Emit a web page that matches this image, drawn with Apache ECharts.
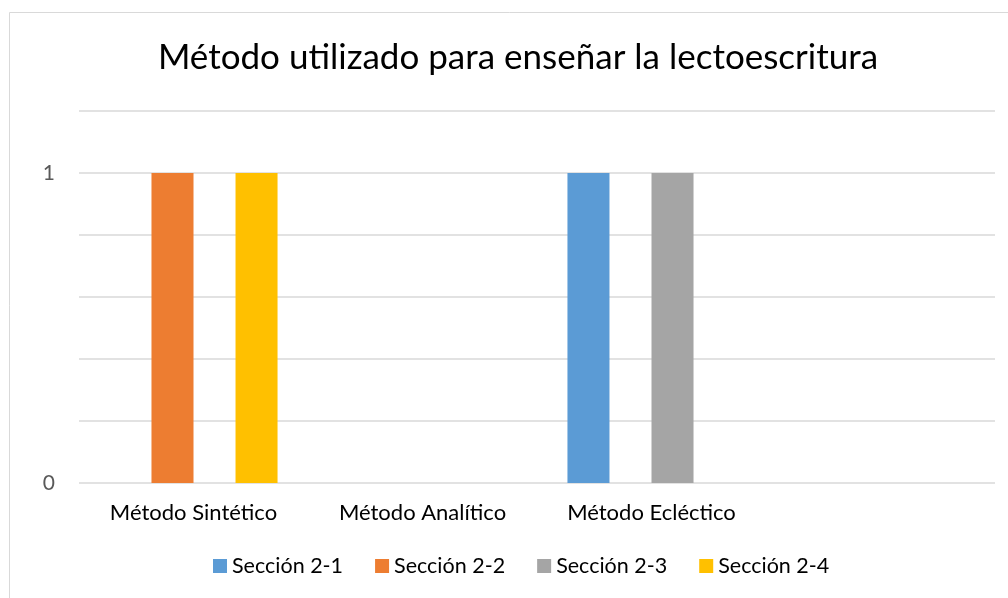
<!DOCTYPE html>
<html>
<head>
<meta charset="utf-8">
<script src="https://cdn.jsdelivr.net/npm/echarts@6/dist/echarts.min.js"></script>
<style>html,body{margin:0;padding:0;background:#fff;}#c{width:1008px;height:598px;}</style>
</head>
<body>
<div id="c"></div>
<script>
const categories = ['Método Sintético', 'Método Analítico', 'Método Ecléctico', ''];
const seriesNames = ['Sección 2-1', 'Sección 2-2', 'Sección 2-3', 'Sección 2-4'];
const seccion21 = [0, 0, 1, 0];
const seccion22 = [1, 0, 0, 0];
const seccion23 = [0, 0, 1, 0];
const seccion24 = [1, 0, 0, 0];
const colors = ['#5B9BD5', '#ED7D31', '#A5A5A5', '#FFC000'];
const values = [seccion21, seccion22, seccion23, seccion24];

const FONT = 'Lato';
const chart = echarts.init(document.getElementById('c'), null, {renderer: 'canvas'});
chart.setOption({
  animation: false,
  backgroundColor: '#fff',
  title: {
    text: 'Método utilizado para enseñar la lectoescritura',
    left: 513, top: 35, textAlign: 'center',
    textStyle: {fontFamily: FONT, fontSize: 35, fontWeight: 'normal', color: '#000'}
  },
  graphic: [{
    type: 'rect', silent: true,
    shape: {x: 9.5, y: 12.5, width: 1010, height: 600},
    style: {fill: 'none', stroke: '#D9D9D9', lineWidth: 1}
  }],
  legend: {
    top: 550, left: 208,
    itemWidth: 14, itemHeight: 14, itemGap: 32,
    icon: 'rect',
    textStyle: {fontFamily: FONT, fontSize: 21.5, color: '#000', padding: [0,0,0,0]},
    data: seriesNames
  },
  grid: {left: 79, right: 13, top: 111, bottom: 115, containLabel: false},
  xAxis: {
    type: 'category', data: categories,
    axisLine: {show: false}, axisTick: {show: false},
    axisLabel: {fontFamily: FONT, fontSize: 22, color: '#000', margin: 19}
  },
  yAxis: {
    type: 'value', min: 0, max: 1.2, interval: 0.2,
    axisLine: {show: false}, axisTick: {show: false},
    splitLine: {lineStyle: {color: '#D9D9D9', width: 1.5}},
    axisLabel: {
      fontFamily: FONT, fontSize: 21, color: '#595959', margin: 24,
      formatter: v => Math.abs(v - Math.round(v)) < 1e-6 ? String(Math.round(v)) : ''
    }
  },
  series: seriesNames.map((n, i) => ({
    name: n, type: 'bar', data: values[i],
    barGap: '0%', barCategoryGap: '26.6%',
    itemStyle: {color: colors[i]}
  }))
});
</script>
</body>
</html>
